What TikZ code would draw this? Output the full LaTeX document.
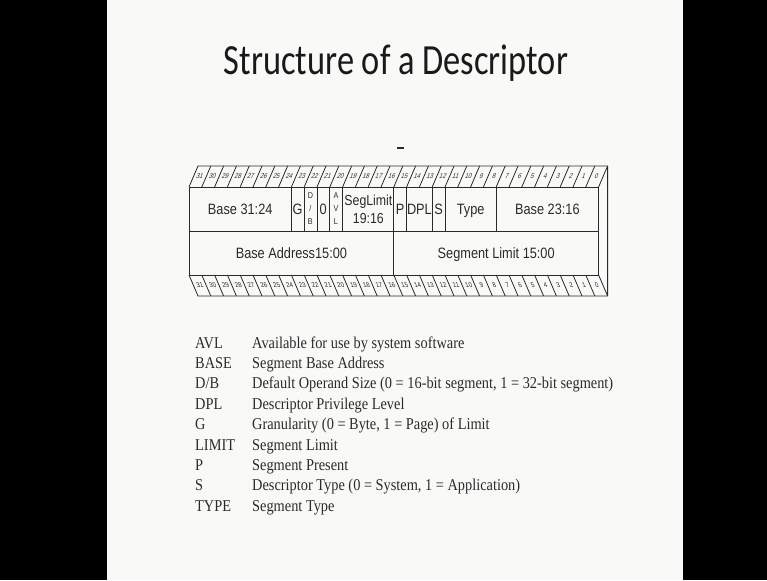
\documentclass[tikz,border=0pt]{standalone}
\usepackage{fontspec}
\setmainfont[FakeStretch=0.87]{Liberation Serif}
\newfontfamily\titlefont[FakeStretch=0.8]{Carlito}
\newfontfamily\fieldfont[FakeStretch=0.85]{Liberation Sans}
\definecolor{slide}{HTML}{F9FAF8}
\definecolor{ink}{HTML}{2A2A2A}

\begin{document}
\begin{tikzpicture}[x=1pt,y=-1pt,
    frame/.style={draw=ink, line width=0.8pt},
    field/.style={font=\fieldfont\fontsize{15}{15}\selectfont, text=ink, inner sep=0pt, anchor=base},
    tinyfield/.style={font=\fieldfont\fontsize{8.5}{13}\selectfont, text=ink, inner sep=0pt, align=center},
    bitnum/.style={font=\fieldfont\fontsize{7}{7}\selectfont, text=ink, inner sep=0pt},
    legend/.style={font=\fontsize{16.5}{18}\selectfont, text=ink, anchor=base west, inner sep=0pt}]

  % slide and black side bars
  \fill[black] (0,0) rectangle (767,580);
  \fill[slide] (107,0) rectangle (683,580);

  \node[font=\titlefont\fontsize{43}{43}\selectfont, text=black!90, anchor=base] (title) at (396,75) {Structure of a Descriptor};
  \draw[ink, line width=1.5pt] (397,148) -- (404,148);

  % descriptor box with the two bit rulers
  \begin{scope}[frame]
    \draw (189,187) -- (198,166) -- (607.6,166) -- (607.6,296) -- (198,296) -- (189,275);
    \draw (189,187) rectangle (598.6,275);
    \draw (189,231) -- (598.6,231);
    \foreach \k in {1,...,32} {
      \draw (189+12.8*\k,187) -- (198+12.8*\k,166);
      \draw (189+12.8*\k,275) -- (198+12.8*\k,296);
    }
    \foreach \k in {8,9,10,11,12,16,17,19,20,24}
      \draw (189+12.8*\k,187) -- (189+12.8*\k,231);
    \draw (393.8,231) -- (393.8,275);
  \end{scope}

  \foreach \k [evaluate=\k as \b using int(31-\k)] in {0,...,31} {
    \node[bitnum, xslant=0.35] (tb\b) at (199.9+12.8*\k,176.5) {\b};
    \node[bitnum, xslant=-0.35] (bb\b) at (199.9+12.8*\k,285.5) {\b};
  }

  % upper row
  \node[field] (base3124) at (240.2,214.5) {Base 31:24};
  \node[field] (g) at (297.6,214.5) {G};
  \node[tinyfield] (db) at (310.4,209) {D\\/\\B};
  \node[field] (zero) at (323.2,214.5) {0};
  \node[tinyfield] (avl) at (336,209) {A\\V\\L};
  \node[field, anchor=center, align=center, font=\fieldfont\fontsize{14.5}{18}\selectfont] (seglimit) at (368.4,209) {SegLimit\\19:16};
  \node[field] (p) at (400.2,214.5) {P};
  \node[field] (dpl) at (419.4,214.5) {DPL};
  \node[field] (s) at (438.6,214.5) {S};
  \node[field] (type) at (470.6,214.5) {Type};
  \node[field] (base2316) at (547.4,214.5) {Base 23:16};

  % lower row
  \node[field] (baseaddr) at (291.4,258.5) {Base Address15:00};
  \node[field] (seglim) at (496.2,258.5) {Segment Limit 15:00};

  % legend
  \foreach \abbr/\desc [count=\i from 0] in {
      AVL/Available for use by system software,
      BASE/Segment Base Address,
      {D/B}/Default Operand Size (0 = 16-bit segment{,} 1 = 32-bit segment),
      DPL/Descriptor Privilege Level,
      G/Granularity (0 = Byte{,} 1 = Page) of Limit,
      LIMIT/Segment Limit,
      P/Segment Present,
      S/Descriptor Type (0 = System{,} 1 = Application),
      TYPE/Segment Type} {
    \node[legend] (abbr\i) at (195,348+20.4*\i) {\abbr};
    \node[legend] (desc\i) at (252,348+20.4*\i) {\desc};
  }
\end{tikzpicture}
\end{document}
